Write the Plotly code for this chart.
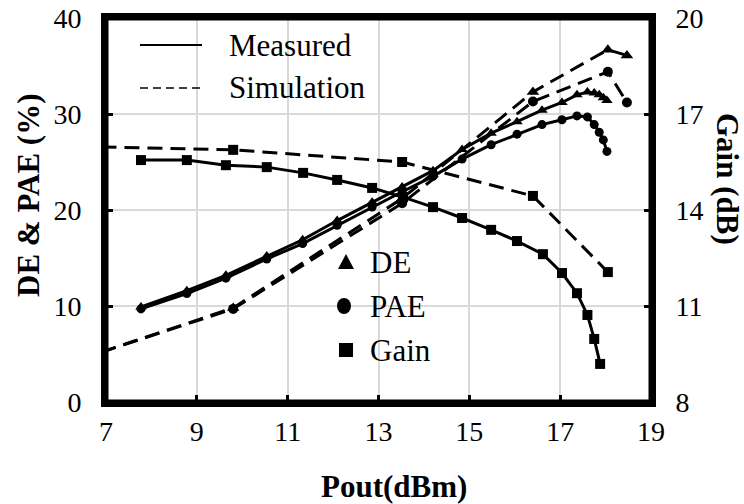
import plotly.graph_objects as go

# ---------------- data ----------------
meas_x = [7.77, 8.78, 9.64, 10.54, 11.33, 12.09, 12.86, 13.52, 14.2, 14.84, 15.48,
          16.05, 16.6, 17.04, 17.37, 17.6, 17.75, 17.86, 17.95, 18.03]
meas_de = [9.9, 11.6, 13.2, 15.2, 16.9, 18.9, 20.8, 22.4, 24.1, 26.3, 28.0,
           29.2, 30.4, 31.2, 32.0, 32.3, 32.2, 32.0, 31.7, 31.4]
meas_pae = [9.7, 11.3, 12.9, 14.9, 16.5, 18.4, 20.3, 21.9, 23.5, 25.3, 26.8,
            27.9, 28.9, 29.4, 29.8, 29.7, 28.9, 28.1, 27.3, 26.1]

gain_x = [7.77, 8.78, 9.64, 10.54, 11.34, 12.09, 12.86, 13.54, 14.2, 14.84, 15.48,
          16.05, 16.62, 17.04, 17.37, 17.6, 17.75, 17.88]
meas_gain = [15.56, 15.56, 15.4, 15.34, 15.16, 14.94, 14.69, 14.4, 14.09, 13.75, 13.38,
             13.03, 12.62, 12.03, 11.4, 10.72, 9.97, 9.19]

sim_x = [6.9, 9.8, 13.52, 16.4, 18.05, 18.47]
sim_de = [5.2, 9.8, 21.2, 32.3, 36.7, 36.1]
sim_pae = [5.2, 9.7, 20.7, 31.3, 34.4, 31.2]

sim_gain_x = [6.9, 9.8, 13.52, 16.4, 18.05]
sim_gain = [15.97, 15.88, 15.5, 14.44, 12.06]

x_ticks = [7, 9, 11, 13, 15, 17, 19]
y_ticks = [0, 10, 20, 30, 40]
y2_ticks = [8, 11, 14, 17, 20]

# ---------------- layout geometry ----------------
W, H = 744, 504
L, R, T, B = 106, 651, 18, 402
FONT = "Liberation Serif, Times New Roman, Times, serif"
DASH = "15px,8px"
NB = "\u00a0"


def px2paper(px, py):
    return (px - L) / (R - L), (B - py) / (B - T)


fig = go.Figure()

line_kw = dict(color="black", width=3)

fig.add_trace(go.Scatter(x=sim_x, y=sim_de, mode="lines+markers",
                         line=dict(color="black", width=3, dash=DASH),
                         marker=dict(symbol="triangle-up", size=11, color="black"),
                         showlegend=False))
fig.add_trace(go.Scatter(x=sim_x, y=sim_pae, mode="lines+markers",
                         line=dict(color="black", width=3, dash=DASH),
                         marker=dict(symbol="circle", size=10, color="black"),
                         showlegend=False))
fig.add_trace(go.Scatter(x=sim_gain_x, y=sim_gain, mode="lines+markers", yaxis="y2",
                         line=dict(color="black", width=3, dash=DASH),
                         marker=dict(symbol="square", size=10, color="black"),
                         showlegend=False))

fig.add_trace(go.Scatter(x=meas_x, y=meas_de, mode="lines+markers",
                         line=line_kw,
                         marker=dict(symbol="triangle-up", size=10, color="black"),
                         showlegend=False))
fig.add_trace(go.Scatter(x=meas_x, y=meas_pae, mode="lines+markers",
                         line=line_kw,
                         marker=dict(symbol="circle", size=9, color="black"),
                         showlegend=False))
fig.add_trace(go.Scatter(x=gain_x, y=meas_gain, mode="lines+markers", yaxis="y2",
                         line=line_kw,
                         marker=dict(symbol="square", size=10, color="black"),
                         showlegend=False))

tickfont = dict(family=FONT, size=28, color="black")
common = dict(showline=True, linecolor="#000000", linewidth=5,
              ticks="inside", ticklen=7, tickwidth=3, tickcolor="#000000",
              tickfont=tickfont, zeroline=False, automargin=False, layer="above traces")
fig.update_layout(
    template="none",
    width=W, height=H,
    margin=dict(l=L, r=W - R, t=T, b=H - B, pad=0, autoexpand=False),
    paper_bgcolor="white", plot_bgcolor="white",
    showlegend=False,
    xaxis=dict(range=[7, 19], tickvals=x_ticks, ticktext=[str(v) for v in x_ticks],
               showgrid=True, gridcolor="#d9d9d9", gridwidth=1.5, mirror=True, **common),
    yaxis=dict(range=[0, 40], tickvals=y_ticks,
               ticktext=[str(v) + NB * 2 for v in y_ticks],
               showgrid=True, gridcolor="#d9d9d9", gridwidth=1.5, **common),
    yaxis2=dict(range=[8, 20], tickvals=y2_ticks, overlaying="y", side="right",
                ticktext=[NB * 2 + str(v) for v in y2_ticks],
                showgrid=False, **common),
)

title_font = dict(family=FONT, size=31, color="black")
ann = []
ann.append(dict(text="<b>Pout(dBm)</b>", xref="paper", yref="paper",
                x=(394 - L) / (R - L), y=(B - 486) / (B - T),
                xanchor="center", yanchor="middle", showarrow=False, font=title_font))
ann.append(dict(text="<b>DE & PAE (%)</b>", xref="paper", yref="paper",
                x=(28 - L) / (R - L), y=(B - 196) / (B - T), textangle=-90,
                xanchor="center", yanchor="middle", showarrow=False, font=title_font))
ann.append(dict(text="<b>Gain (dB)</b>", xref="paper", yref="paper",
                x=(728 - L) / (R - L), y=(B - 179) / (B - T), textangle=90,
                xanchor="center", yanchor="middle", showarrow=False, font=title_font))

leg_font = dict(family=FONT, size=31, color="black")
for label, py in [("Measured", 45), ("Simulation", 88)]:
    x0, y0 = px2paper(227, py)
    ann.append(dict(text=label, xref="paper", yref="paper", x=x0, y=y0,
                    xanchor="left", yanchor="middle", showarrow=False, font=leg_font))
for label, py in [("DE", 262), ("PAE", 306), ("Gain", 350)]:
    x0, y0 = px2paper(368, py)
    ann.append(dict(text=label, xref="paper", yref="paper", x=x0, y=y0,
                    xanchor="left", yanchor="middle", showarrow=False, font=leg_font))
fig.update_layout(annotations=ann)

shapes = []
# plot frame as four thick edges
for (x0, y0, x1, y1) in [(0, 0, 1, 0), (0, 1, 1, 1), (0, 0, 0, 1), (1, 0, 1, 1)]:
    shapes.append(dict(type="line", xref="paper", yref="paper", x0=x0, y0=y0, x1=x1, y1=y1,
                       line=dict(color="#000000", width=5), layer="above"))
a0, b0 = px2paper(140, 45)
a1, b1 = px2paper(202, 45)
shapes.append(dict(type="line", xref="paper", yref="paper", x0=a0, y0=b0, x1=a1, y1=b1,
                   line=dict(color="black", width=2)))
a0, b0 = px2paper(140, 88)
a1, b1 = px2paper(202, 88)
shapes.append(dict(type="line", xref="paper", yref="paper", x0=a0, y0=b0, x1=a1, y1=b1,
                   line=dict(color="black", width=1.6, dash="8px,5px")))
# legend markers (pixel-sized shapes anchored in paper coords)
cx, cy = px2paper(346, 262)
shapes.append(dict(type="path", xref="paper", yref="paper", xsizemode="pixel", ysizemode="pixel",
                   xanchor=cx, yanchor=cy, path="M -8 -7 L 8 -7 L 0 8 Z",
                   fillcolor="black", line=dict(width=0)))
cx, cy = px2paper(344, 306)
shapes.append(dict(type="circle", xref="paper", yref="paper", xsizemode="pixel", ysizemode="pixel",
                   xanchor=cx, yanchor=cy, x0=-7, x1=7, y0=-8, y1=8,
                   fillcolor="black", line=dict(width=0)))
cx, cy = px2paper(346, 350)
shapes.append(dict(type="rect", xref="paper", yref="paper", xsizemode="pixel", ysizemode="pixel",
                   xanchor=cx, yanchor=cy, x0=-7, x1=7, y0=-7, y1=7,
                   fillcolor="black", line=dict(width=0)))
fig.update_layout(shapes=shapes)

fig.write_html("out.html")
